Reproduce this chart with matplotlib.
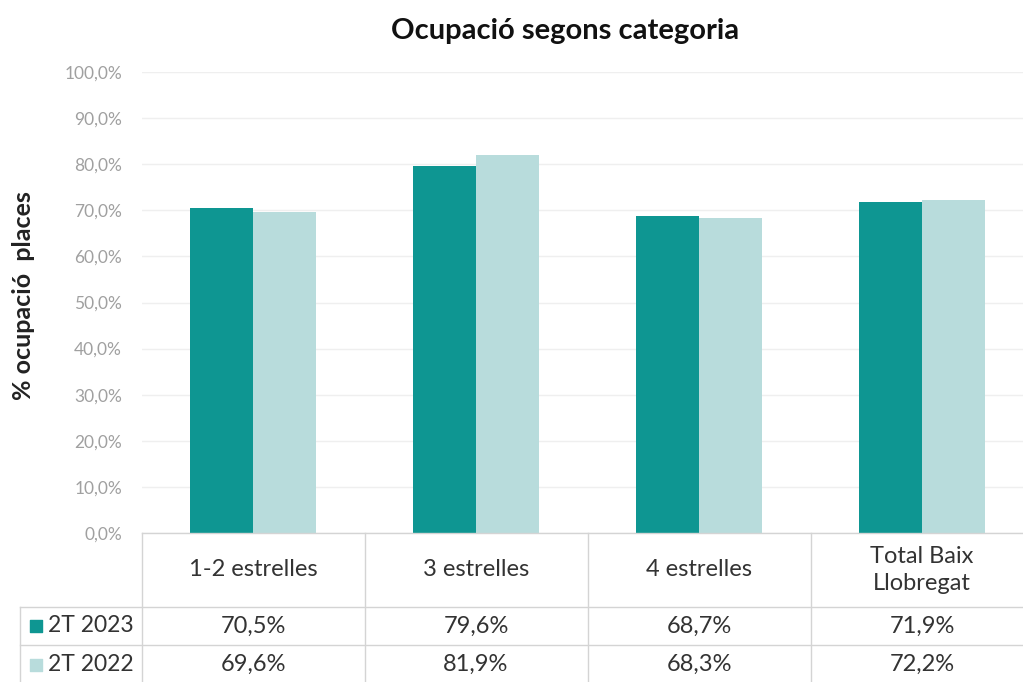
import numpy as np
import matplotlib.pyplot as plt
from matplotlib.transforms import blended_transform_factory

categories = ["1-2 estrelles", "3 estrelles", "4 estrelles", "Total Baix\nLlobregat"]
series_names = ["2T 2023", "2T 2022"]
values_2023 = [70.5, 79.6, 68.7, 71.9]
values_2022 = [69.6, 81.9, 68.3, 72.2]
colors = ["#0e9692", "#b8dcdc"]

plt.rcParams["font.family"] = ["Lato", "DejaVu Sans"]

W, H = 1023, 682
fig = plt.figure(figsize=(W / 100, H / 100), dpi=100)
fig.patch.set_facecolor("white")

# axes placed in pixel terms (plot is cropped on the right like the source)
left, right, top, bottom = 141.5, 1033.5, 72, 533
ax = fig.add_axes([left / W, (H - bottom) / H, (right - left) / W, (bottom - top) / H])

x = np.arange(len(categories))
bw = 0.283
ax.bar(x - bw / 2, values_2023, bw, color=colors[0], zorder=3)
ax.bar(x + bw / 2, values_2022, bw, color=colors[1], zorder=3)

ax.set_xlim(-0.5, len(categories) - 0.5)
ax.set_ylim(0, 100)
ticks = np.arange(0, 101, 10)
ax.set_yticks(ticks)
ax.set_yticklabels([f"{t:.1f}%".replace(".", ",") for t in ticks], color="#a0a0a0", fontsize=12.5)
ax.set_xticks([])
ax.tick_params(axis="y", length=0, pad=14)
ax.yaxis.grid(True, color="#efefef", linewidth=1, zorder=0)
for s in ax.spines.values():
    s.set_visible(False)

fig.text(24 / W, 1 - 296 / H, "% ocupació  places", rotation=90, ha="center", va="center",
         fontsize=18, fontweight="bold", color="#222222")
fig.text(565 / W, 1 - 31 / H, "Ocupació segons categoria", ha="center", va="center",
         fontsize=21, fontweight="bold", color="#111111")

# data table below the plot
tr = blended_transform_factory(ax.transData, ax.transAxes)
row_h = 461.0
y_head = (bottom - 607) / row_h
y_r1 = (bottom - 645) / row_h
y_r2 = (bottom - 684) / row_h
lc = "#d4d4d4"
leg_left = -0.5 - (141.5 - 20) / 223.0

ax.plot([-0.5, 3.5], [0, 0], transform=tr, color=lc, lw=1, clip_on=False, zorder=4)
for yy in (y_head, y_r1):
    ax.plot([leg_left, 3.5], [yy, yy], transform=tr, color=lc, lw=1, clip_on=False)
for xx in np.arange(-0.5, 3.6, 1):
    ax.plot([xx, xx], [0, y_r2], transform=tr, color=lc, lw=1, clip_on=False)
ax.plot([leg_left, leg_left], [y_head, y_r2], transform=tr, color=lc, lw=1, clip_on=False)

tc = "#333333"
fs = 17
for i, cat in enumerate(categories):
    ax.text(i, y_head / 2, cat, transform=tr, ha="center", va="center",
            fontsize=fs, color=tc, linespacing=1.4)
rows = [values_2023, values_2022]
ys = [(y_head + y_r1) / 2, (y_r1 + y_r2) / 2]
for r, vals in enumerate(rows):
    for i, v in enumerate(vals):
        ax.text(i, ys[r], f"{v:.1f}%".replace(".", ","), transform=tr, ha="center",
                va="center", fontsize=fs, color=tc)
    ax.scatter([leg_left + 0.07], [ys[r]], transform=tr, marker="s", s=70,
               color=colors[r], clip_on=False)
    ax.text(leg_left + 0.125, ys[r], series_names[r], transform=tr, ha="left",
            va="center", fontsize=16.5, color=tc)

fig.savefig("out.png", dpi=100, facecolor="white")
